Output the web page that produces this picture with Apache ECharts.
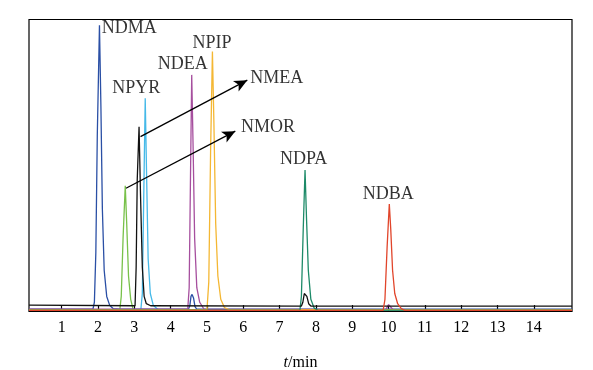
<!DOCTYPE html>
<html><head><meta charset="utf-8">
<script src="https://cdn.jsdelivr.net/npm/echarts@6/dist/echarts.min.js"></script>
<style>html,body{margin:0;padding:0;background:#fff}#c{width:593px;height:370px}</style>
</head><body><div id="c"></div>
<script>
// Axis ticks (min)
const tickValues = [1,2,3,4,5,6,7,8,9,10,11,12,13,14];
// Chromatogram traces: [time (min), relative response (%)]
const NDMA = [[0.1,0.6],[1.86,0.6],[1.9,3],[1.94,20],[1.98,60],[2.04,98],[2.08,70],[2.12,35],[2.17,14],[2.24,5],[2.32,2],[2.42,0.8],[2.6,0.6],
  [4.49,0.6],[4.53,2],[4.56,5],[4.59,5.7],[4.63,4.5],[4.67,1.5],[4.72,0.6],[15.05,0.6]];
const NPYR = [[0.1,0.5],[3.18,0.5],[3.22,6],[3.26,40],[3.30,73],[3.34,45],[3.38,18],[3.44,6],[3.52,2],[3.65,0.5],[15.05,0.5]];
const NMEA = [[0.1,2.0],[3.02,1.8],[3.05,15],[3.08,45],[3.13,63.2],[3.17,40],[3.22,15],[3.27,5],[3.33,2.5],[3.45,1.8],
  [7.6,1.7],[7.64,3],[7.68,6],[7.71,6.6],[7.75,5],[7.8,2.5],[7.86,1.7],[15.05,1.7]];
const NMOR = [[0.1,0.4],[2.6,0.4],[2.64,5],[2.69,25],[2.75,43],[2.79,30],[2.84,12],[2.9,4],[2.97,0.4],[15.05,0.4]];
const NDEA = [[0.1,0.6],[4.47,0.6],[4.51,8],[4.55,50],[4.58,81],[4.62,55],[4.66,25],[4.72,8],[4.8,3],[4.92,0.6],
  [9.92,0.5],[9.97,1.5],[10.0,2.2],[10.05,1.6],[10.12,0.5],[15.05,0.5]];
const NPIP = [[0.1,0.5],[5.0,0.5],[5.05,10],[5.1,55],[5.15,89],[5.19,65],[5.24,30],[5.3,12],[5.38,4],[5.48,1.2],[5.6,0.5],[15.05,0.5]];
const NDPA = [[0.1,0.3],[7.56,0.3],[7.6,5],[7.65,28],[7.7,48.4],[7.74,32],[7.79,14],[7.86,4],[7.95,1],[8.05,0.3],[15.05,0.3]];
const NDBA = [[0.1,0.2],[9.85,0.2],[9.9,4],[9.96,22],[10.02,36.7],[10.06,28],[10.11,14],[10.17,6],[10.25,2.5],[10.35,0.8],[10.45,0.2],[15.05,0.2]];
// Peak label names and anchor points [time, response]
const labelNames = ['NDMA','NPYR','NDEA','NPIP','NMEA','NMOR','NDPA','NDBA'];
const labelAnchors = [[2.10,97.1],[3.05,76.4],[4.33,84.6],[5.14,91.8],[6.19,79.9],[5.94,63.2],[7.66,52.0],[9.99,40.0]];
// Arrows [from, to]
const arrows = [[[3.17,59.8],[6.11,79.2]],[[2.77,42.1],[5.78,61.7]]];

const traces = [
  {name:'NMOR', data:NMOR, color:'#78c14a'},
  {name:'NPYR', data:NPYR, color:'#45b9e8'},
  {name:'NDMA', data:NDMA, color:'#2a4fa5'},
  {name:'NDEA', data:NDEA, color:'#a64f9e'},
  {name:'NPIP', data:NPIP, color:'#f4b733'},
  {name:'NDPA', data:NDPA, color:'#1d8a68'},
  {name:'NMEA', data:NMEA, color:'#111111'},
  {name:'NDBA', data:NDBA, color:'#e1452b'}
];
const leftAligned = {NDMA:true, NMEA:true, NMOR:true};
const FONT = '"Liberation Serif", "Times New Roman", serif';

const series = traces.map(t => ({
  type:'line', name:t.name, data:t.data, showSymbol:false, symbol:'none',
  lineStyle:{color:t.color, width:1.3}, itemStyle:{color:t.color}, animation:false, z:2
}));
const labelSeries = {
  type:'scatter', symbolSize:0, animation:false, z:5,
  data: labelNames.map((n,i)=>{
    const d = {value:labelAnchors[i], name:n};
    if (leftAligned[n]) d.label = {align:'left'};
    return d;
  }),
  label:{show:true, position:'inside', formatter:p=>p.name, color:'#000', fontFamily:FONT, fontSize:18,
    align:'center', verticalAlign:'middle'}
};
series.push(labelSeries);
series.push({
  type:'line', data:[], animation:false, silent:true,
  markLine:{silent:true, animation:false, symbol:['none','arrow'], symbolSize:[9,13],
    label:{show:false}, lineStyle:{color:'#000', width:1.3, type:'solid'},
    data: arrows.map(a=>[{coord:a[0]},{coord:a[1]}])}
});

const chart = echarts.init(document.getElementById('c'), null, {renderer:'canvas'});
chart.setOption({
  backgroundColor:'#fff',
  grid:{left:29, right:21, top:19.5, bottom:59, outerBoundsMode:'none', containLabel:false,
    show:true, borderColor:'#000', borderWidth:1.2, backgroundColor:'transparent'},
  xAxis:{type:'value', min:0.1, max:15.05,
    axisLine:{show:true, lineStyle:{color:'#000', width:1.2}},
    axisTick:{show:true, inside:true, length:6, customValues:tickValues, lineStyle:{color:'#000', width:1.2}},
    axisLabel:{customValues:tickValues, color:'#000', fontFamily:FONT, fontSize:16, margin:9},
    splitLine:{show:false},
    name:'{i|t}/min', nameLocation:'middle', nameGap:44,
    nameTextStyle:{color:'#000', fontFamily:FONT, fontSize:16, rich:{i:{fontStyle:'italic', fontFamily:FONT, fontSize:16, color:'#000'}}}
  },
  yAxis:{type:'value', min:0, max:100, axisLine:{show:false}, axisTick:{show:false}, axisLabel:{show:false}, splitLine:{show:false}},
  series
});
</script></body></html>
